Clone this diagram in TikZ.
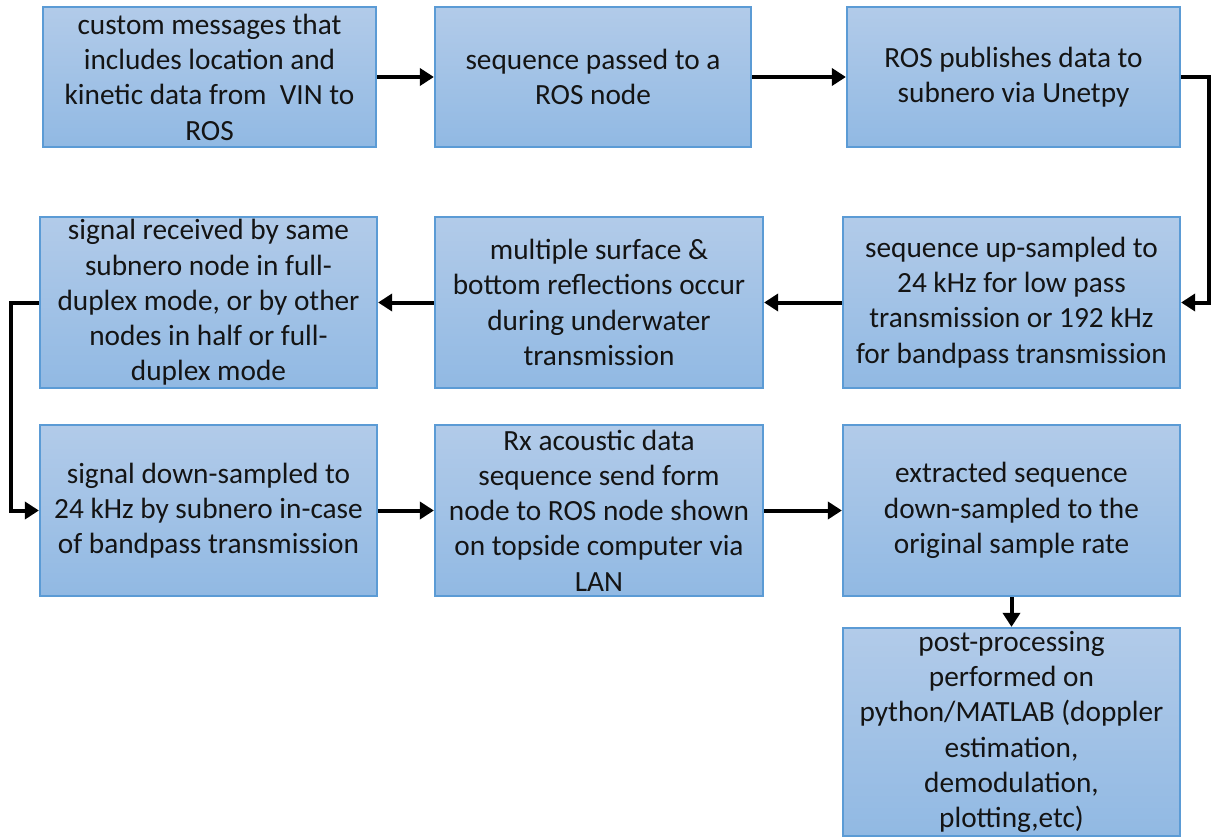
\documentclass[tikz,border=0pt]{standalone}
\usepackage{fontspec}
\setmainfont{Carlito}
\usetikzlibrary{arrows.meta}
\definecolor{boxtop}{RGB}{178,203,233}
\definecolor{boxbot}{RGB}{145,185,227}
\definecolor{boxline}{RGB}{91,155,213}
\tikzset{
  stepbox/.style={draw=boxline, line width=2.2pt, top color=boxtop, bottom color=boxbot,
    shading angle=0, align=center, inner sep=0pt, text=black!92,
    font=\fontsize{29.3}{35.3}\selectfont},
  flow/.style={line width=4pt, -{Triangle[length=14pt,width=17pt]}},
}
\begin{document}
\begin{tikzpicture}[x=1pt,y=-1pt]
\useasboundingbox (0,0) rectangle (1213,837);

% first row
\node[stepbox, minimum width=333pt, minimum height=140pt] (a) at (209.5,77)
  {custom messages that\\includes location and\\kinetic data from \ VIN to\\ROS};
\node[stepbox, minimum width=316pt, minimum height=140pt] (b) at (593,77)
  {sequence passed to a\\ROS node};
\node[stepbox, minimum width=333pt, minimum height=140pt] (c) at (1013.5,77)
  {ROS publishes data to\\subnero via Unetpy};

% second row
\node[stepbox, minimum width=337pt, minimum height=171pt] (d) at (208.5,302.5)
  {signal received by same\\subnero node in full-\\duplex mode, or by other\\nodes in half or full-\\duplex mode};
\node[stepbox, minimum width=328pt, minimum height=171pt] (e) at (599,302.5)
  {multiple surface \&\\bottom reflections occur\\during underwater\\transmission};
\node[stepbox, minimum width=337pt, minimum height=171pt] (f) at (1011.5,302.5)
  {sequence up-sampled to\\24 kHz for low pass\\transmission or 192 kHz\\for bandpass transmission};

% third row
\node[stepbox, minimum width=337pt, minimum height=171pt] (g) at (208.5,510.5)
  {signal down-sampled to\\24 kHz by subnero in-case\\of bandpass transmission};
\node[stepbox, minimum width=328pt, minimum height=171pt] (h) at (599,510.5)
  {Rx acoustic data\\sequence send form\\node to ROS node shown\\on topside computer via\\LAN};
\node[stepbox, minimum width=337pt, minimum height=171pt] (i) at (1011.5,510.5)
  {extracted sequence\\down-sampled to the\\original sample rate};

% final step
\node[stepbox, minimum width=337pt, minimum height=208pt] (j) at (1011.5,732)
  {post-processing\\performed on\\python/MATLAB (doppler\\estimation,\\demodulation,\\plotting,etc)};

% connectors
\draw[flow] (a.east) -- (b.west);
\draw[flow] (b.east) -- (c.west);
\draw[flow] (c.east) -- ++(28,0) |- (f.east);
\draw[flow] (f.west) -- (e.east);
\draw[flow] (e.west) -- (d.east);
\draw[flow] (d.west) -- ++(-28,0) |- (g.west);
\draw[flow] (g.east) -- (h.west);
\draw[flow] (h.east) -- (i.west);
\draw[flow] (i.south) -- (j.north);
\end{tikzpicture}
\end{document}
